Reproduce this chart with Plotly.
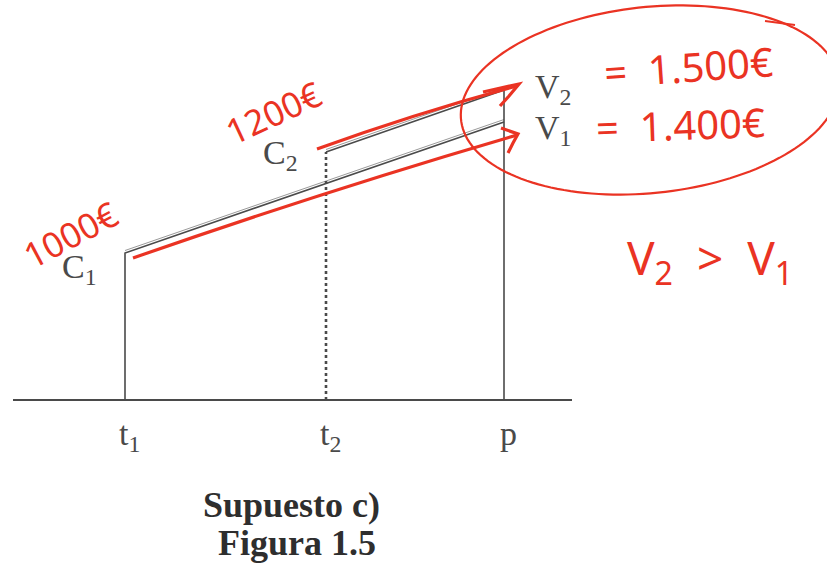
import numpy as np
import plotly.graph_objects as go

# ---- data -------------------------------------------------------------
time_labels = ["t<sub>1</sub>", "t<sub>2</sub>", "p"]
time_pos = [1.25, 3.26, 5.04]

capital_labels = ["C<sub>1</sub>", "C<sub>2</sub>"]
capital_level = [1.47, 2.48]          # height of each capital when it is placed

final_labels = ["V<sub>1</sub>", "V<sub>2</sub>"]
final_level = [2.78, 3.10]            # height reached at p

capital_amounts = ["1000€", "1200€"]
final_amounts = ["=  1.400€", "=  1.500€"]
conclusion = "V<sub>2</sub>  &gt;  V<sub>1</sub>"

caption_lines = ["Supuesto c)", "Figura 1.5"]

# ---- helpers ----------------------------------------------------------
W, H = 827, 572
BASE = 400  # pixel row of the time axis


def at(x, y):
    """Pixel position (from the top-left corner) -> axis coordinates."""
    return x / 100.0, (BASE - y) / 100.0


def path(points, cmd="L"):
    out = []
    for i, (x, y) in enumerate(points):
        dx, dy = at(x, y)
        out.append(("M" if i == 0 else cmd) + f"{dx:.4f},{dy:.4f}")
    return " ".join(out)


def qpath(p0, c, p1):
    a, b, d = at(*p0), at(*c), at(*p1)
    return f"M{a[0]:.4f},{a[1]:.4f} Q{b[0]:.4f},{b[1]:.4f} {d[0]:.4f},{d[1]:.4f}"


INK = "#4a4a4a"
RED = "#ea3323"
SERIF = "Liberation Serif, Times New Roman, serif"
HAND = "Noto Sans, Open Sans, sans-serif"

t1, t2, tp = time_pos
c1, c2 = capital_level
v1, v2 = final_level

fig = go.Figure()


def seg(xs, ys, color=INK, width=1.5, dash="solid"):
    fig.add_trace(go.Scatter(x=xs, y=ys, mode="lines", hoverinfo="skip",
                             line=dict(color=color, width=width, dash=dash),
                             showlegend=False))


# time axis
seg([0.13, 5.72], [0, 0], width=2)

# first capital: vertical at t1 and growth line up to p
seg([t1, t1, tp], [0, c1, v1], width=1.6)
seg([t1, tp], [c1 + 0.025, v1 + 0.025], color="#9a9a9a", width=1)

# second capital: dotted vertical at t2 and growth line up to p
seg([t2, t2], [0, c2], width=2.6, dash="3px,3px")
seg([t2, tp], [c2, v2], width=1.6)
seg([t2, tp], [c2 + 0.025, v2 + 0.025], color="#9a9a9a", width=1)

# vertical at p
seg([tp, tp], [0, v2], width=1.6)

annotations = []

# time labels
for lab, x in zip(time_labels, time_pos):
    annotations.append(dict(x=x, y=0, text=lab, showarrow=False, xanchor="center",
                            yanchor="top", xshift=4, yshift=-13,
                            font=dict(family=SERIF, size=34, color=INK)))

# capital labels (left of the point where they are placed)
for lab, x, y, ys in zip(capital_labels, [t1, t2], capital_level, [-16, -3]):
    annotations.append(dict(x=x, y=y, text=lab, showarrow=False, xanchor="right",
                            yanchor="middle", xshift=-26, yshift=ys,
                            font=dict(family=SERIF, size=34, color=INK)))

# final values (right of p)
for lab, y, ys in zip(final_labels, final_level, [-8, 1]):
    annotations.append(dict(x=tp, y=y, text=lab, showarrow=False, xanchor="left",
                            yanchor="middle", xshift=29, yshift=ys,
                            font=dict(family=SERIF, size=34, color=INK)))

# caption
for line, (cx, cy) in zip(caption_lines, [(291, 505), (297, 543)]):
    x, y = at(cx, cy)
    annotations.append(dict(x=x, y=y, text=f"<b>{line}</b>", showarrow=False,
                            xanchor="center", yanchor="middle",
                            font=dict(family=SERIF, size=36, color="#2e2e2e")))

# handwritten notes
notes = [
    (capital_amounts[0], (70, 234), -28, 35),
    (capital_amounts[1], (273, 112), -25, 35),
    (final_amounts[1], (688, 66), -4, 40),
    (final_amounts[0], (680, 124), -2, 40),
    (conclusion, (710, 260), 0, 46),
]
for text, (px, py), ang, size in notes:
    x, y = at(px, py)
    annotations.append(dict(x=x, y=y, text=text, showarrow=False, textangle=ang,
                            xanchor="center", yanchor="middle",
                            font=dict(family=HAND, size=size, color=RED)))

shapes = []
red_line = dict(color=RED, width=3.2)

# arrows from each capital to its final value
shapes.append(dict(type="path", path=qpath((133, 258), (325, 191), (517, 135)), line=red_line))
shapes.append(dict(type="path", path=path([(501, 128), (518, 134), (513, 143), (508, 153)]), line=red_line))
shapes.append(dict(type="path", path=qpath((317, 149), (417, 113), (517, 86)), line=red_line))
shapes.append(dict(type="path", path=path([(483, 92), (519, 84), (509, 96), (500, 106)]), line=red_line))

# ellipse round the final values
cx, cy, a, b, phi = 650, 100, 190, 93, np.radians(6)
tt = np.linspace(0, 2 * np.pi, 160)
ex = cx + a * np.cos(tt) * np.cos(phi) + b * np.sin(tt) * np.sin(phi)
ey = cy - a * np.cos(tt) * np.sin(phi) + b * np.sin(tt) * np.cos(phi)
shapes.append(dict(type="path", path=path(list(zip(ex, ey))), line=dict(color=RED, width=2.2)))
shapes.append(dict(type="path", path=path([(765, 21), (795, 25)]), line=dict(color=RED, width=2.2)))

fig.update_layout(
    width=W, height=H,
    margin=dict(l=0, r=0, t=0, b=0),
    paper_bgcolor="white", plot_bgcolor="white",
    xaxis=dict(range=[0, W / 100], visible=False, fixedrange=True),
    yaxis=dict(range=[(BASE - H) / 100, BASE / 100], visible=False, fixedrange=True),
    annotations=annotations,
    shapes=shapes,
    showlegend=False,
)

fig.write_html("out.html")
